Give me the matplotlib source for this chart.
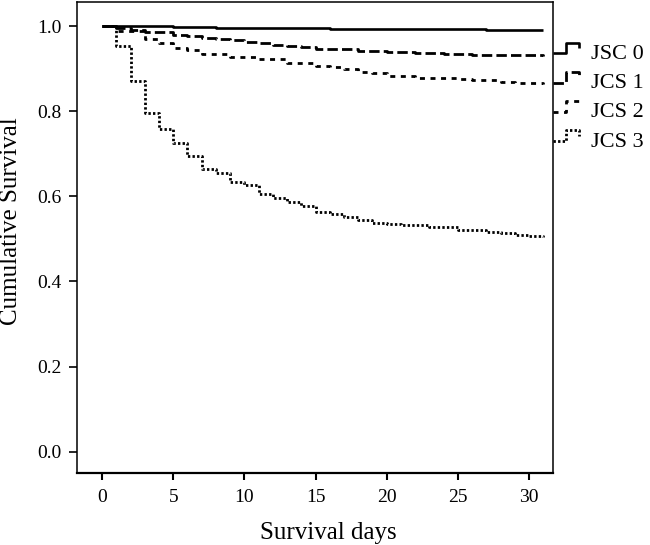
import matplotlib
matplotlib.use("Agg")
import matplotlib.pyplot as plt
from matplotlib.lines import Line2D
from matplotlib.legend_handler import HandlerBase

plt.rcParams['font.family'] = ['Liberation Serif', 'DejaVu Serif']
plt.rcParams['lines.scale_dashes'] = False

# survival curves (day, cumulative survival)
days_jsc0 = [0, 5, 8, 12, 16, 22, 27, 31]
surv_jsc0 = [1.0, 0.998, 0.996, 0.995, 0.993, 0.992, 0.991, 0.990]

days_jcs1 = [0, 1, 2, 3, 5, 6, 7, 8, 9, 10, 11, 12, 13, 14, 15, 16, 18, 20, 22, 24, 26, 28, 31]
surv_jcs1 = [1.0, 0.995, 0.990, 0.986, 0.980, 0.976, 0.973, 0.969, 0.966, 0.962, 0.959, 0.956,
             0.953, 0.950, 0.947, 0.945, 0.942, 0.939, 0.937, 0.934, 0.932, 0.931, 0.930]

days_jcs2 = [0, 1, 3, 4, 5, 6, 7, 9, 11, 13, 15, 16, 17, 18, 19, 20, 22, 24, 25, 26, 28, 29, 30, 31]
surv_jcs2 = [1.0, 0.988, 0.970, 0.961, 0.949, 0.943, 0.935, 0.927, 0.922, 0.912, 0.906, 0.904,
             0.898, 0.893, 0.889, 0.883, 0.879, 0.877, 0.875, 0.873, 0.869, 0.867, 0.865, 0.863]

days_jcs3 = [0, 1, 2, 3, 4, 5, 6, 7, 8, 9, 10, 11, 12, 13, 14, 15, 16, 17, 18, 19, 20, 21, 23,
             25, 27, 28, 29, 30, 31]
surv_jcs3 = [1.0, 0.953, 0.872, 0.796, 0.757, 0.725, 0.694, 0.663, 0.654, 0.634, 0.626, 0.605,
             0.596, 0.587, 0.577, 0.563, 0.558, 0.551, 0.544, 0.538, 0.534, 0.532, 0.528,
             0.520, 0.517, 0.515, 0.509, 0.506, 0.504]

labels = ["JSC 0", "JCS 1", "JCS 2", "JCS 3"]
x_ticks = [0, 5, 10, 15, 20, 25, 30]
y_ticks = [0.0, 0.2, 0.4, 0.6, 0.8, 1.0]


class HandlerStep(HandlerBase):
    # SPSS-like little step symbol in the legend
    def create_artists(self, legend, orig_handle, xdescent, ydescent,
                       width, height, fontsize, trans):
        x0 = -xdescent
        lo = -ydescent + 0.22 * fontsize
        hi = lo + 0.48 * fontsize
        xs = [x0, x0 + 0.48 * width, x0 + 0.48 * width, x0 + width, x0 + width]
        ys = [lo, lo, hi, hi, lo + 0.5 * (hi - lo)]
        ln = Line2D(xs, ys)
        self.update_prop(ln, orig_handle, legend)
        ln.set_clip_on(False)
        ln.set_transform(trans)
        return [ln]


fig = plt.figure(figsize=(6.5, 5.45), dpi=100)
ax = fig.add_axes([0.119, 0.132, 0.732, 0.864])

l0, = ax.step(days_jsc0, surv_jsc0, where='post', color='black', lw=1.9,
              solid_capstyle='butt')
l1, = ax.step(days_jcs1, surv_jcs1, where='post', color='black', lw=2.0,
              dashes=(7.5, 3.0))
l2, = ax.step(days_jcs2, surv_jcs2, where='post', color='black', lw=2.0,
              dashes=(3.6, 4.0))
l3, = ax.step(days_jcs3, surv_jcs3, where='post', color='black', lw=2.0,
              dashes=(1.7, 1.6))

ax.set_xlim(-1.74, 31.7)
ax.set_ylim(-0.050, 1.056)
ax.set_xticks(x_ticks)
ax.set_yticks(y_ticks)
ax.set_yticklabels(["%.1f" % v for v in y_ticks])
ax.tick_params(axis='x', direction='out', length=5, width=1.5, labelsize=14, pad=6.5)
ax.tick_params(axis='y', direction='out', length=5.8, width=1.2, labelsize=14, pad=5.4)
for s in ax.spines.values():
    s.set_linewidth(1.1)
ax.spines['bottom'].set_linewidth(1.6)

ax.set_xlabel("Survival days", fontsize=18)
ax.set_ylabel("Cumulative Survival", fontsize=18)
ax.xaxis.set_label_coords(0.528, -0.104)
ax.yaxis.set_label_coords(-0.117, 0.536)

fig.legend([l0, l1, l2, l3], labels, loc='upper left',
           bbox_to_anchor=(0.851, 0.919), frameon=False, fontsize=16,
           handler_map={Line2D: HandlerStep()}, handlelength=1.17,
           handleheight=0.6, handletextpad=0.55, labelspacing=0.42,
           borderpad=0, borderaxespad=0)

fig.savefig("out.png", dpi=100)
